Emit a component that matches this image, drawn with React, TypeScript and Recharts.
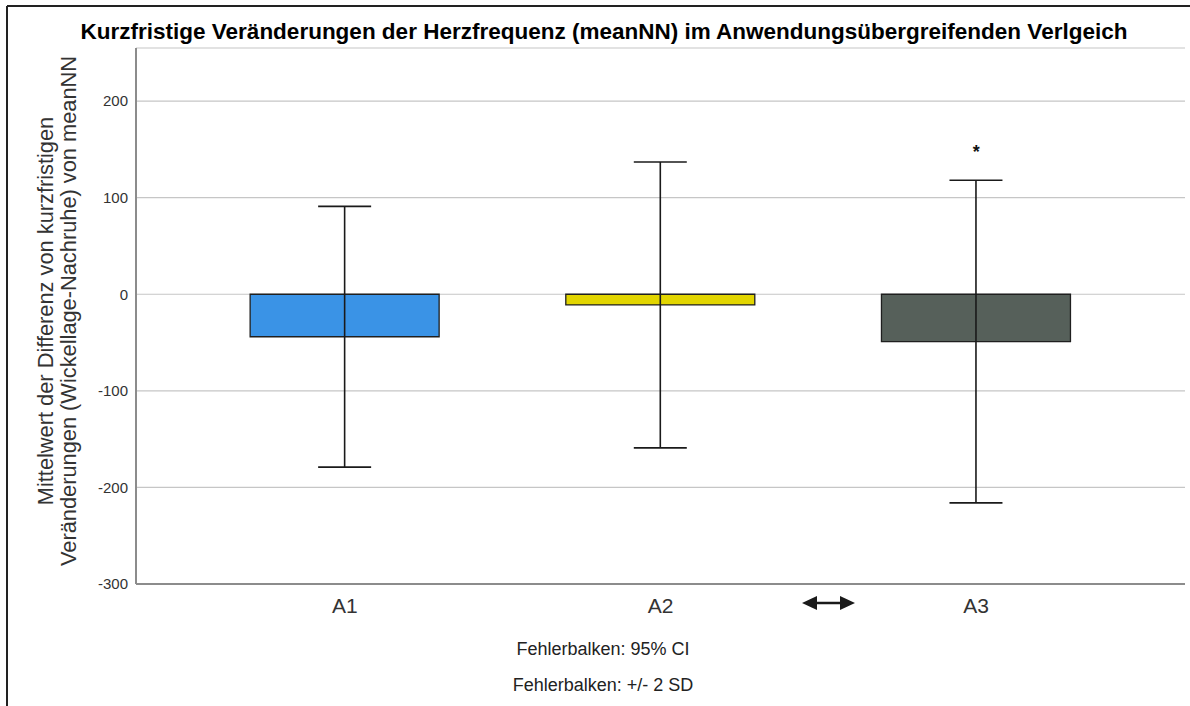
import React from 'react';
import { BarChart, Bar, XAxis, YAxis, CartesianGrid, ErrorBar, Cell, ReferenceDot } from 'recharts';

// Applications compared
const categories = ['A1', 'A2', 'A3'];
// Mean difference short-term change (Wickellage - Nachruhe) of meanNN
const meanDiff = [-44, -11, -49];
// Error bar half-length (+/- 2 SD)
const twoSD = [135, 148, 167];
// Significance marker per application
const significance = ['', '', '*'];
const barColors = ['#3a93e6', '#e2d500', '#56605a'];
const yTicks = [-300, -200, -100, 0, 100, 200];

const data = categories.map((name, i) => ({
  name,
  mean: meanDiff[i],
  err: twoSD[i],
  sig: significance[i],
}));

const FONT = '"Liberation Sans", Arial, Helvetica, sans-serif';

export default function App() {
  return (
    <div style={{ position: 'absolute', left: 0, top: 0, width: 1190, height: 706, background: '#fff', fontFamily: FONT }}>
      <BarChart
        width={1190}
        height={706}
        data={data}
        margin={{ top: 48, right: 5, bottom: 82, left: 76 }}
        barCategoryGap="20%"
      >
        <CartesianGrid vertical={false} stroke="#c6c6c6" strokeWidth={1.2} />
        <XAxis
          dataKey="name"
          height={40}
          padding={{ left: 51, right: 51 }}
          tickLine={false}
          tickSize={6}
          tickMargin={8}
          axisLine={{ stroke: '#8c8c8c', strokeWidth: 2 }}
          tick={{ fontSize: 21, fill: '#333', fontFamily: FONT }}
        />
        <YAxis
          width={60}
          type="number"
          domain={[-300, 255]}
          allowDataOverflow
          ticks={yTicks}
          interval={0}
          tickLine={false}
          tickSize={6}
          tickMargin={2}
          axisLine={{ stroke: '#8c8c8c', strokeWidth: 2 }}
          tick={{ fontSize: 15, fill: '#333', fontFamily: FONT }}
        />
        <Bar dataKey="mean" stroke="#1f1f1f" strokeWidth={1.3} isAnimationActive={false}>
          {data.map((d, i) => (
            <Cell key={d.name} fill={barColors[i]} />
          ))}
          <ErrorBar dataKey="err" width={26.5} stroke="#1a1a1a" strokeWidth={1.6} isAnimationActive={false} />
        </Bar>
        {data
          .filter((d) => d.sig)
          .map((d) => (
            <ReferenceDot
              key={d.name}
              x={d.name}
              y={d.mean + d.err}
              r={1}
              ifOverflow="visible"
              shape={(p: any) => (
                <text x={p.cx} y={p.cy - 22} textAnchor="middle" fontSize={18} fontWeight="bold" fill="#111" fontFamily={FONT}>
                  {d.sig}
                </text>
              )}
            />
          ))}
      </BarChart>
      <svg
        width={1190}
        height={706}
        style={{ position: 'absolute', left: 0, top: 0, pointerEvents: 'none' }}
      >
        {/* frame */}
        <line x1={7} y1={6} x2={1190} y2={6} stroke="#222" strokeWidth={2} />
        <line x1={7} y1={6} x2={7} y2={706} stroke="#222" strokeWidth={2} />
        {/* title */}
        <text x={604} y={39} textAnchor="middle" fontSize={22.5} fontWeight="bold" fill="#000" fontFamily={FONT}>
          Kurzfristige Veränderungen der Herzfrequenz (meanNN) im Anwendungsübergreifenden Verlgeich
        </text>
        {/* y axis title */}
        <g transform="translate(53, 311) rotate(-90)">
          <text x={0} y={0} textAnchor="middle" fontSize={21.8} fill="#333" fontFamily={FONT}>
            Mittelwert der Differenz von kurzfristigen
          </text>
          <text x={0} y={23} textAnchor="middle" fontSize={21.8} fill="#333" fontFamily={FONT}>
            Veränderungen (Wickellage-Nachruhe) von meanNN
          </text>
        </g>
        {/* comparison arrow */}
        <line x1={812} y1={603} x2={846} y2={603} stroke="#1a1a1a" strokeWidth={2.5} />
        <polygon points="802,603 817,596 817,610" fill="#1a1a1a" />
        <polygon points="855,603 840,596 840,610" fill="#1a1a1a" />
        {/* footnotes */}
        <text x={603} y={655} textAnchor="middle" fontSize={18} fill="#222" fontFamily={FONT}>
          Fehlerbalken: 95% CI
        </text>
        <text x={603} y={691} textAnchor="middle" fontSize={18} fill="#222" fontFamily={FONT}>
          Fehlerbalken: +/- 2 SD
        </text>
      </svg>
    </div>
  );
}
